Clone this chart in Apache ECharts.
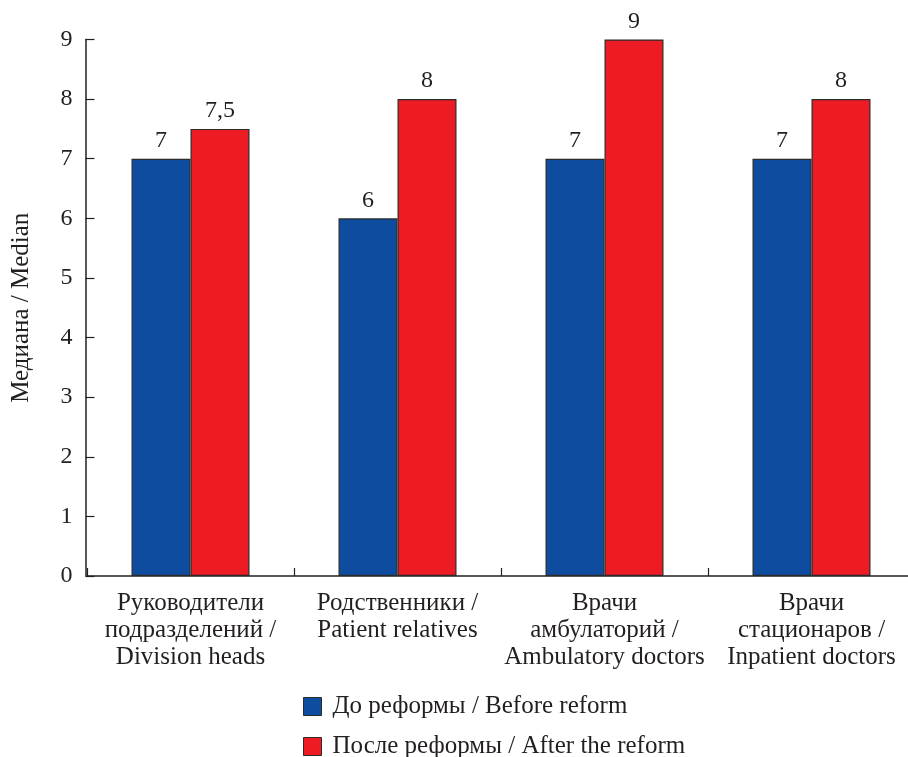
<!DOCTYPE html>
<html>
<head>
<meta charset="utf-8">
<script src="https://cdn.jsdelivr.net/npm/echarts@6/dist/echarts.min.js"></script>
<style>
  html, body { margin: 0; padding: 0; background: #fff; }
  #chart { width: 908px; height: 757px; }
</style>
</head>
<body>
<div id="chart"></div>
<script>
// Groups of respondents
const categories = [
  'Руководители\nподразделений /\nDivision heads',
  'Родственники /\nPatient relatives',
  'Врачи\nамбулаторий /\nAmbulatory doctors',
  'Врачи\nстационаров /\nInpatient doctors'
];
// Median scores before and after the reform
const beforeReform = [7, 6, 7, 7];
const afterReform = [7.5, 8, 9, 8];
const seriesNames = ['До реформы / Before reform', 'После реформы / After the reform'];
const axisTitle = 'Медиана / Median';

const ink = '#231f20';
const font = "'Liberation Serif', 'Times New Roman', serif";

const chart = echarts.init(document.getElementById('chart'), null, { renderer: 'canvas' });

const labelOpt = {
  show: true,
  position: 'top',
  distance: 6,
  color: ink,
  fontFamily: font,
  fontSize: 24,
  formatter: p => String(p.value).replace('.', ',')
};

chart.setOption({
  animation: false,
  textStyle: { fontFamily: font, color: ink },
  grid: {
    left: 87, top: 39.5, width: 828, height: 536.5,
    containLabel: false,
    outerBoundsMode: 'none'
  },
  legend: {
    orient: 'vertical',
    left: 303,
    top: 694,
    height: 150,
    padding: 0,
    itemWidth: 18,
    itemHeight: 18,
    itemGap: 15,
    icon: 'rect',
    itemStyle: { borderColor: '#2b2b2b', borderWidth: 1 },
    textStyle: { fontFamily: font, fontSize: 25, lineHeight: 20, color: ink, padding: [0, 0, 0, 6] },
    data: seriesNames
  },
  xAxis: {
    type: 'category',
    data: categories,
    axisLine: { lineStyle: { color: ink, width: 1.5 } },
    axisTick: { show: true, inside: true, length: 8, lineStyle: { color: ink, width: 1.2 } },
    axisLabel: {
      interval: 0,
      margin: 14,
      fontFamily: font,
      fontSize: 25,
      lineHeight: 27,
      color: ink,
      align: 'center'
    }
  },
  yAxis: {
    type: 'value',
    min: 0,
    max: 9,
    interval: 1,
    offset: 1.5,
    name: axisTitle,
    nameLocation: 'middle',
    nameRotate: 90,
    nameGap: 52,
    nameTextStyle: { fontFamily: font, fontSize: 25, color: ink },
    splitLine: { show: false },
    axisLine: { show: true, lineStyle: { color: ink, width: 1.5 } },
    axisTick: { show: true, inside: true, length: 9, lineStyle: { color: ink, width: 1.2 } },
    axisLabel: { margin: 13, fontFamily: font, fontSize: 24, color: ink }
  },
  series: [
    {
      name: seriesNames[0],
      type: 'bar',
      data: beforeReform,
      barWidth: 59,
      barGap: '0%',
      itemStyle: { color: '#0e4c9f', borderColor: '#2b2b2b', borderWidth: 1.2 },
      label: labelOpt
    },
    {
      name: seriesNames[1],
      type: 'bar',
      data: afterReform,
      barWidth: 59,
      barGap: '0%',
      itemStyle: { color: '#ed1c24', borderColor: '#2b2b2b', borderWidth: 1.2 },
      label: labelOpt
    }
  ]
});
</script>
</body>
</html>
